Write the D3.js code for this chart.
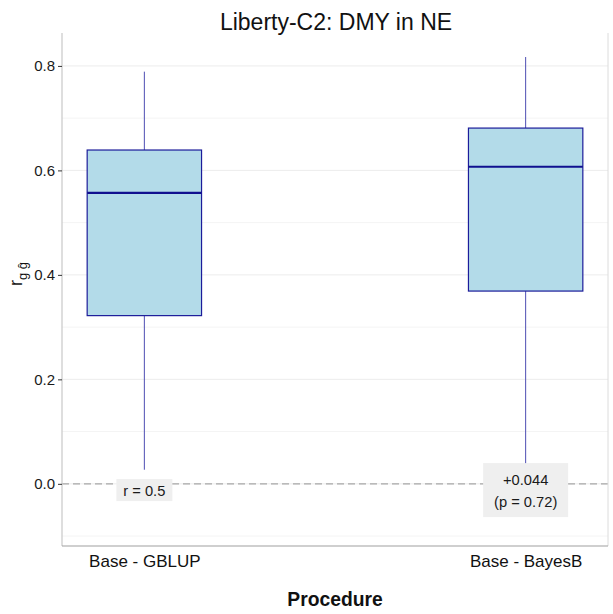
<!DOCTYPE html>
<html>
<head>
<meta charset="utf-8">
<script src="https://cdn.jsdelivr.net/npm/d3@7"></script>
<style>
  body { margin: 0; background: #fff; }
  text { font-family: "Liberation Sans", Arial, sans-serif; }
</style>
</head>
<body>
<svg id="chart" width="613" height="614"></svg>
<script>
// Data
var procedures = ["Base - GBLUP", "Base - BayesB"];
var whiskerLow  = [0.027, 0.038];
var q1Values    = [0.322, 0.369];
var medians     = [0.557, 0.607];
var q3Values    = [0.639, 0.681];
var whiskerHigh = [0.789, 0.817];
var labelLines  = [["r = 0.5"], ["+0.044", "(p = 0.72)"]];
var labelValue  = -0.012;
var yTicks = [0.0, 0.2, 0.4, 0.6, 0.8];
var yMinor = [-0.1, 0.1, 0.3, 0.5, 0.7];

var svg = d3.select("#chart");
// panel edges (note: "top" is a reserved window global, so use plot* names)
var plotLeft = 62, plotRight = 608, plotTop = 33, plotBottom = 546;

var x = d3.scalePoint().domain(procedures).range([plotLeft, plotRight]).padding(0.216);
var y = d3.scaleLinear().domain([-0.119, 0.863]).range([plotBottom, plotTop]);
var boxW = x.step() * 0.3;

// gridlines
svg.append("g").selectAll("line").data(yMinor).enter().append("line")
  .attr("x1", plotLeft).attr("x2", plotRight)
  .attr("y1", d => y(d)).attr("y2", d => y(d))
  .attr("stroke", "#f4f4f4").attr("stroke-width", 1);
svg.append("g").selectAll("line").data(yTicks).enter().append("line")
  .attr("x1", plotLeft).attr("x2", plotRight)
  .attr("y1", d => y(d)).attr("y2", d => y(d))
  .attr("stroke", "#ececec").attr("stroke-width", 1);

// dashed reference line at zero
svg.append("line")
  .attr("x1", plotLeft).attr("x2", plotRight)
  .attr("y1", y(0)).attr("y2", y(0))
  .attr("stroke", "#a8a8a8").attr("stroke-width", 1.3)
  .attr("stroke-dasharray", "7,4");

// panel border lines (left, right, bottom)
svg.append("line").attr("x1", plotLeft).attr("x2", plotLeft).attr("y1", plotTop).attr("y2", plotBottom)
  .attr("stroke", "#c8c8c8").attr("stroke-width", 1.2);
svg.append("line").attr("x1", plotRight).attr("x2", plotRight).attr("y1", plotTop).attr("y2", plotBottom)
  .attr("stroke", "#dcdcdc").attr("stroke-width", 1);
svg.append("line").attr("x1", plotLeft).attr("x2", plotRight).attr("y1", plotBottom).attr("y2", plotBottom)
  .attr("stroke", "#a0a0a0").attr("stroke-width", 1.2);

// boxes
var boxes = svg.append("g").selectAll("g").data(procedures).enter().append("g");
boxes.append("line")
  .attr("x1", d => x(d)).attr("x2", d => x(d))
  .attr("y1", (d, i) => y(whiskerHigh[i])).attr("y2", (d, i) => y(q3Values[i]))
  .attr("stroke", "#4d4db3").attr("stroke-width", 1);
boxes.append("line")
  .attr("x1", d => x(d)).attr("x2", d => x(d))
  .attr("y1", (d, i) => y(q1Values[i])).attr("y2", (d, i) => y(whiskerLow[i]))
  .attr("stroke", "#4d4db3").attr("stroke-width", 1);
boxes.append("rect")
  .attr("x", d => x(d) - boxW / 2).attr("width", boxW)
  .attr("y", (d, i) => y(q3Values[i]))
  .attr("height", (d, i) => y(q1Values[i]) - y(q3Values[i]))
  .attr("fill", "#b3dbe9").attr("stroke", "#1c1c9a").attr("stroke-width", 1.2);
boxes.append("line")
  .attr("x1", d => x(d) - boxW / 2).attr("x2", d => x(d) + boxW / 2)
  .attr("y1", (d, i) => y(medians[i])).attr("y2", (d, i) => y(medians[i]))
  .attr("stroke", "#10108f").attr("stroke-width", 2.2);

// labels with grey background
var labels = svg.append("g").selectAll("g").data(procedures).enter().append("g");
labels.each(function(d, i) {
  var g = d3.select(this);
  var lines = labelLines[i];
  var lh = 22;
  var cy = y(labelValue);
  var h = lines.length > 1 ? lines.length * lh + 10 : 22;
  var w = lines.length > 1 ? 85 : 56;
  g.append("rect")
    .attr("x", x(d) - w / 2).attr("y", cy - h / 2)
    .attr("width", w).attr("height", h)
    .attr("fill", "#efefef");
  lines.forEach(function(s, k) {
    g.append("text")
      .attr("x", x(d))
      .attr("y", cy + (k - (lines.length - 1) / 2) * lh + 5.5)
      .attr("text-anchor", "middle")
      .attr("font-size", 14.7).attr("fill", "#1a1a1a")
      .text(s);
  });
});

// y axis ticks
var yAxis = svg.append("g").attr("transform", "translate(" + plotLeft + ",0)")
  .call(d3.axisLeft(y).tickValues(yTicks).tickFormat(d3.format(".1f")).tickSize(4).tickPadding(3));
yAxis.select(".domain").remove();
yAxis.selectAll(".tick line").attr("stroke", "#333");
yAxis.selectAll(".tick text").attr("font-size", 15).attr("fill", "#1a1a1a")
  .attr("font-family", "Liberation Sans, Arial, sans-serif");

// x axis labels
var xAxis = svg.append("g").attr("transform", "translate(0," + plotBottom + ")")
  .call(d3.axisBottom(x).tickSize(0).tickPadding(9));
xAxis.select(".domain").remove();
xAxis.selectAll(".tick text").attr("font-size", 17).attr("fill", "#111")
  .attr("font-family", "Liberation Sans, Arial, sans-serif");

// titles
svg.append("text").attr("x", 336).attr("y", 30)
  .attr("text-anchor", "middle").attr("font-size", 23).attr("fill", "#111")
  .text("Liberty-C2: DMY in NE");
svg.append("text").attr("x", 335).attr("y", 606)
  .attr("text-anchor", "middle").attr("font-size", 19.3).attr("font-weight", "bold")
  .attr("fill", "#111").text("Procedure");

var ylab = svg.append("text")
  .attr("transform", "translate(22,274) rotate(-90)")
  .attr("text-anchor", "middle").attr("font-size", 18).attr("fill", "#111");
ylab.append("tspan").text("r");
ylab.append("tspan").attr("font-size", 13).attr("dy", 5).text("g ĝ");
</script>
</body>
</html>
